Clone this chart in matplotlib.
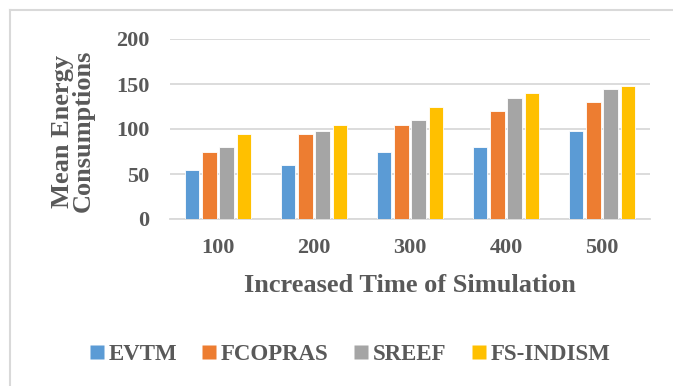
import numpy as np
import matplotlib
matplotlib.use("Agg")
import matplotlib.pyplot as plt
from matplotlib.lines import Line2D

# Data
times = ["100", "200", "300", "400", "500"]
evtm = [55, 60, 75, 80, 98]
fcopras = [75, 95, 105, 120, 130]
sreef = [80, 98, 110, 135, 145]
fs_indism = [95, 105, 125, 140, 148]

series_names = ["EVTM", "FCOPRAS", "SREEF", "FS-INDISM"]
series_vals = [evtm, fcopras, sreef, fs_indism]
colors = ["#5B9BD5", "#ED7D31", "#A5A5A5", "#FFC000"]
text_color = "#595959"
grid_color = "#D9D9D9"

plt.rcParams["font.family"] = ["Liberation Serif", "DejaVu Serif"]
plt.rcParams["font.weight"] = "bold"

W, H = 673, 386
fig = plt.figure(figsize=(W / 100, H / 100), dpi=100)
fig.patch.set_facecolor("white")

# Axes placed in pixel terms
left, right, top, bottom = 170, 650, 39, 219
ax = fig.add_axes([left / W, 1 - bottom / H, (right - left) / W, (bottom - top) / H])

x = np.arange(len(times))
step = 0.18
width = 0.15
for i, (name, vals, c) in enumerate(zip(series_names, series_vals, colors)):
    ax.bar(x + (i - 1.5) * step, vals, width=width, color=c, edgecolor="white",
           linewidth=0.6, label=name, zorder=3)

ax.set_xlim(-0.5, 4.5)
ax.set_ylim(0, 200)
ax.set_yticks([0, 50, 100, 150, 200])
ax.set_xticks(x)
ax.set_xticklabels(times)
ax.yaxis.grid(True, color=grid_color, linewidth=1.3, zorder=0)
ax.set_axisbelow(True)
for s in ["top", "right", "left"]:
    ax.spines[s].set_visible(False)
ax.spines["bottom"].set_color(grid_color)
ax.spines["bottom"].set_linewidth(1.3)
ax.tick_params(axis="both", length=0, labelsize=16, colors=text_color)
ax.tick_params(axis="x", pad=14)
ax.tick_params(axis="y", pad=15)
for lab in ax.get_xticklabels() + ax.get_yticklabels():
    lab.set_fontweight("bold")

# Axis titles
fig.text(410 / W, 1 - 285 / H, "Increased Time of Simulation", ha="center", va="center",
         fontsize=19, fontweight="bold", color=text_color)
fig.text(73 / W, 1 - 131 / H, "Mean Energy\nConsumptions", ha="center", va="center",
         rotation=90, fontsize=19, fontweight="bold", color=text_color,
         multialignment="center", linespacing=0.9)

# Legend with square swatches
handles = [Line2D([], [], marker="s", linestyle="None", markersize=10,
                  markerfacecolor=c, markeredgecolor="none") for c in colors]
leg = fig.legend(handles, series_names, loc="center", bbox_to_anchor=(350 / W, 1 - 354 / H),
                 ncol=4, frameon=False,
                 prop={"family": "Liberation Serif", "weight": "bold", "size": 16.5},
                 handlelength=0.62, handletextpad=0.2, columnspacing=1.1,
                 borderaxespad=0, borderpad=0)
for t in leg.get_texts():
    t.set_color(text_color)

# Chart area border
fig.add_artist(Line2D([10 / W, 1.0], [1 - 10 / H, 1 - 10 / H], color=grid_color, linewidth=1.5))
fig.add_artist(Line2D([10 / W, 10 / W], [0, 1 - 10 / H], color=grid_color, linewidth=1.5))

fig.savefig("out.png", dpi=100, facecolor="white")
